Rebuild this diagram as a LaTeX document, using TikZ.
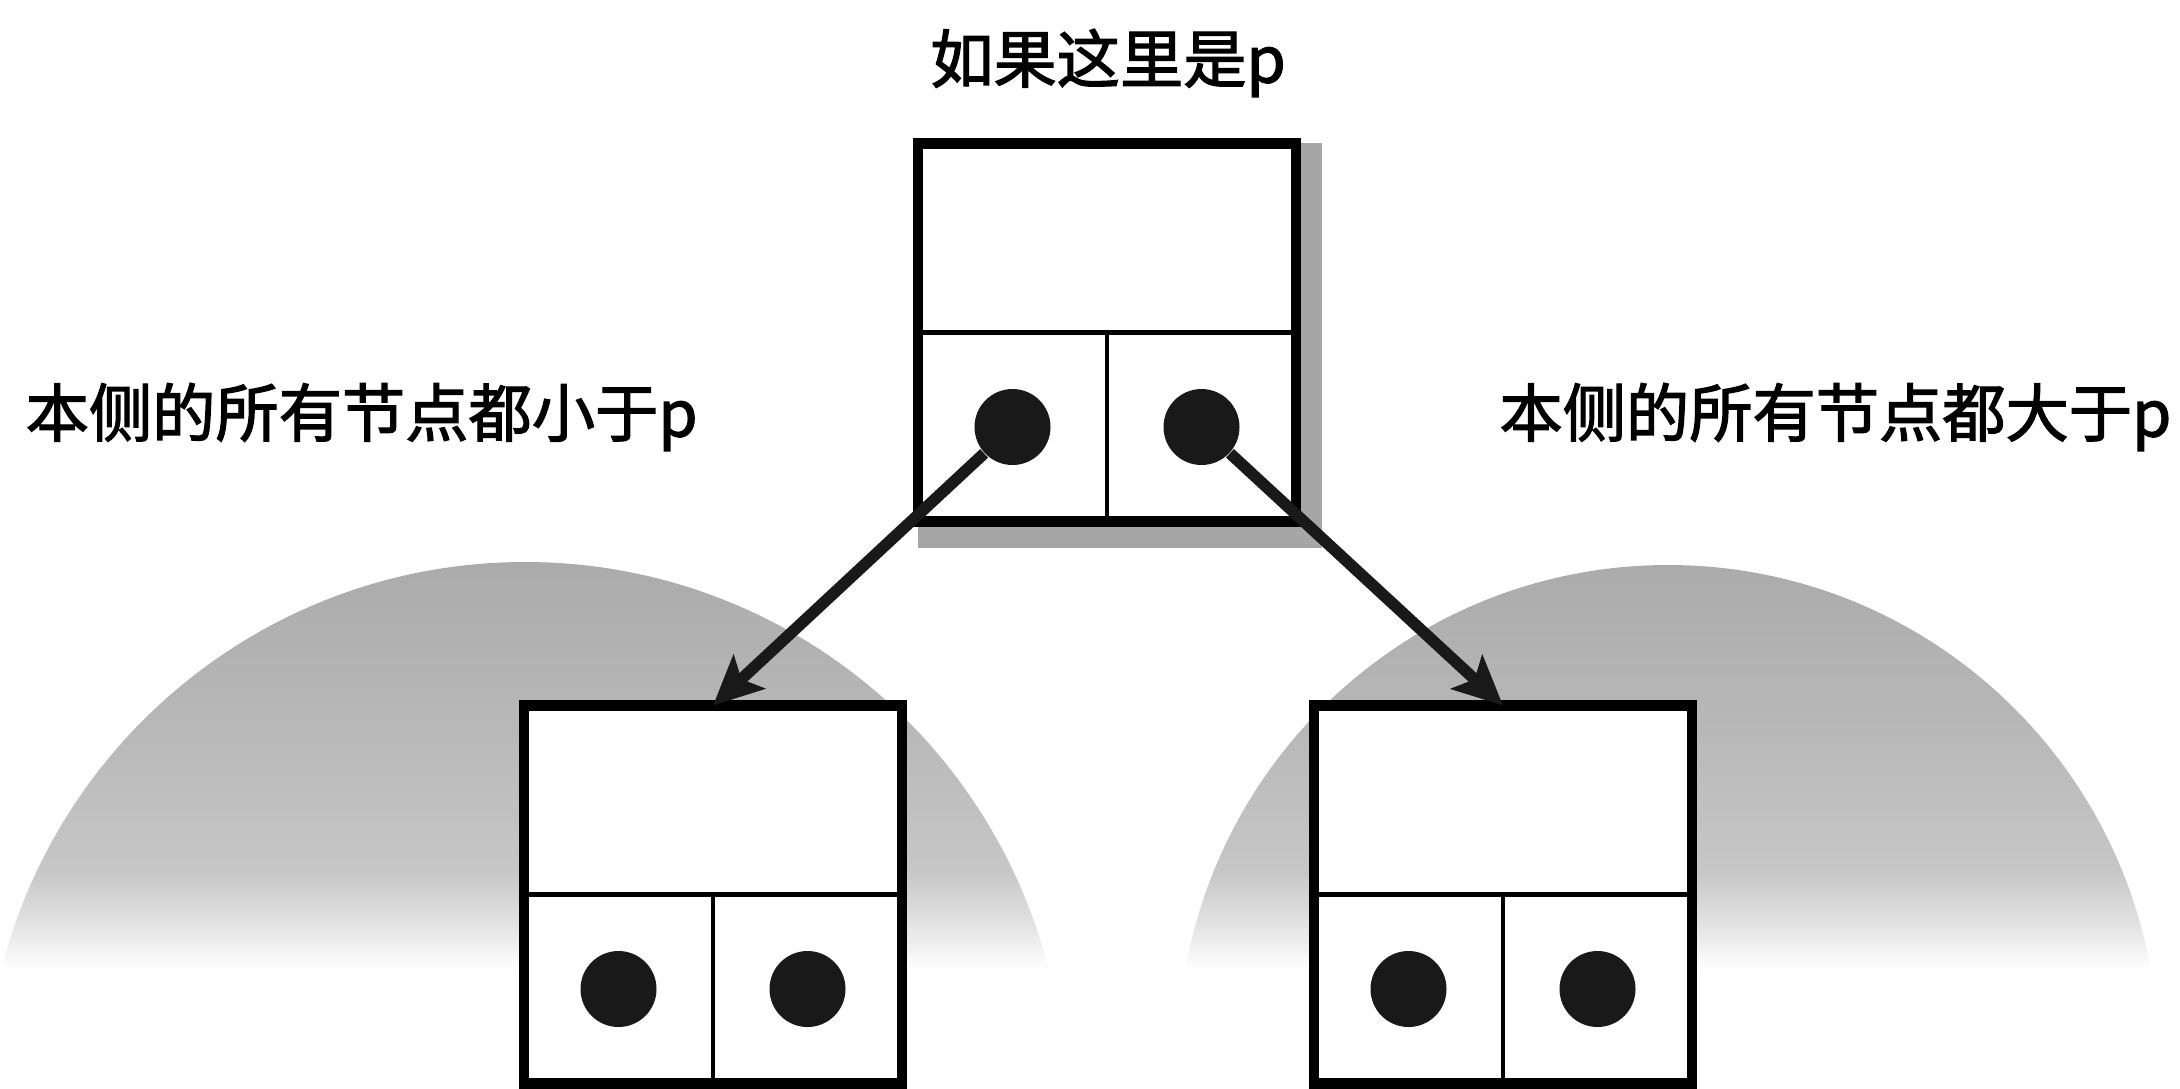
\documentclass[tikz,border=0pt]{standalone}
\usepackage{fontspec}
\newfontfamily\cjk[FakeBold=2]{Noto Sans CJK SC}
\usetikzlibrary{arrows.meta, calc, shadows}

\pgfdeclareverticalshading{domefade}{100bp}{color(0bp)=(white); color(25bp)=(white); color(30bp)=(black!10); color(37bp)=(black!22); color(55bp)=(black!28); color(75bp)=(black!33); color(100bp)=(black!33)}

\begin{document}
\begin{tikzpicture}[
        cell/.style={rectangle, draw=black, line width=3pt, fill=white, minimum width=3.78cm, minimum height=3.78cm, inner sep=0pt, outer sep=0pt},
        divider/.style={line width=1.2pt},
        dot/.style={circle, fill=black!90, minimum size=0.76cm, inner sep=0pt},
        arrow/.style={-{Stealth[length=14pt, width=13pt, inset=3pt]}, line width=3.3pt, draw=black!90},
        txt/.style={font=\cjk\fontsize{18}{22}\selectfont, inner sep=0pt}
    ]
    \useasboundingbox (0,0) rectangle (21.8,-10.88);

    % shaded subtrees
    \begin{scope}
        \clip (5.25,-11.02) circle (5.40);
        \shade[shading=domefade] (0,-5.60) rectangle (10.9,-9.7);
    \end{scope}
    \begin{scope}
        \clip (16.68,-10.55) circle (4.90);
        \shade[shading=domefade] (11.7,-5.63) rectangle (21.7,-9.7);
    \end{scope}

    \node[cell, drop shadow={shadow xshift=0.12cm, shadow yshift=-0.12cm, shadow scale=1.07, fill=black!35, opacity=1}] (root) at (11.07,-3.325) {};
    \node[cell] (lchild) at (7.13,-8.945) {};
    \node[cell] (rchild) at (15.03,-8.945) {};

    \foreach \b in {root, lchild, rchild} {
        \draw[divider] (\b.west) -- (\b.east);
        \draw[divider] (\b.center) -- (\b.south);
        \node[dot] (\b-l) at ($(\b.center)!0.5!(\b.south west)$) {};
        \node[dot] (\b-r) at ($(\b.center)!0.5!(\b.south east)$) {};
    }

    \draw[arrow] (root-l) -- (lchild.north);
    \draw[arrow] (root-r) -- (rchild.north);

    \node[txt] (ptxt) at (11.08,-0.63) {如果这里是p};
    \node[txt, anchor=west] (ltxt) at (0.25,-4.17) {本侧的所有节点都小于p};
    \node[txt, anchor=east] (rtxt) at (21.72,-4.17) {本侧的所有节点都大于p};
\end{tikzpicture}
\end{document}
